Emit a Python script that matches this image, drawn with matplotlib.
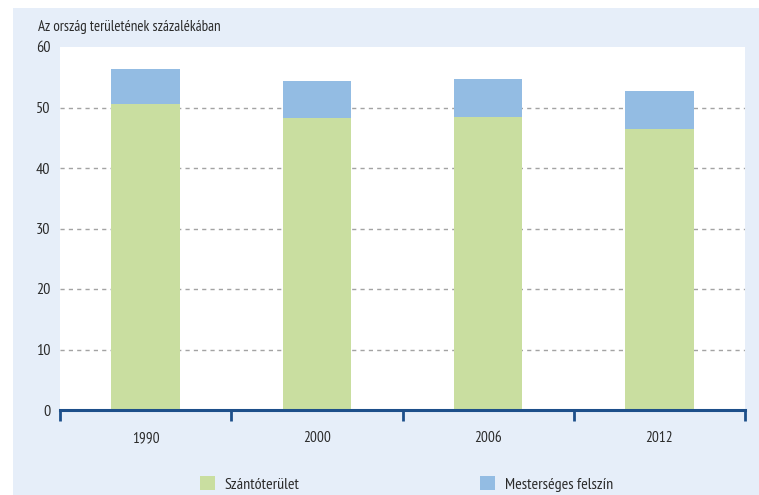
import matplotlib.pyplot as plt
from matplotlib.patches import Rectangle

# DATA
# ############################################################################
YEARS = ['1990', '2000', '2006', '2012']
ARABLE = [50.6, 48.3, 48.4, 46.4]        # Szántóterület
ARTIFICIAL = [5.8, 6.1, 6.3, 6.3]        # Mesterséges felszín
Y_TICKS = [0, 10, 20, 30, 40, 50, 60]

GREEN = '#c9dea0'
BLUE = '#93bce3'
BG = '#e6eef9'
NAVY = '#1d4f8a'
TEXT = '#2b2b2b'

plt.rcParams['font.family'] = ['PT Sans Narrow', 'DejaVu Sans']
plt.rcParams['font.size'] = 11


def main() -> None:
    fig = plt.figure(figsize=(7.59, 4.95), dpi=100, facecolor='white')
    # light blue panel behind the chart
    fig.patches.append(Rectangle((13 / 759, 0), 1, (495 - 8) / 495,
                                 transform=fig.transFigure, facecolor=BG,
                                 edgecolor='none', zorder=-10))

    ax = fig.add_axes([60 / 759, (495 - 410) / 495,
                       (745 - 60) / 759, (410 - 47) / 495])
    ax.set_facecolor('white')

    x = range(len(YEARS))
    green = ax.bar(x, ARABLE, width=0.4, color=GREEN, zorder=3)
    blue = ax.bar(x, ARTIFICIAL, width=0.4, bottom=ARABLE, color=BLUE,
                  zorder=3)

    ax.set_xlim(-0.5, len(YEARS) - 0.5)
    ax.set_ylim(0, 60)
    ax.set_yticks(Y_TICKS)
    ax.tick_params(axis='y', length=0, pad=7, labelsize=11.5,
                   labelcolor=TEXT)
    for y in Y_TICKS[1:-1]:
        ax.axhline(y, color='#a3a3a3', linestyle=(0, (3, 3)), linewidth=1.0,
                   zorder=1)

    # category labels between the boundary ticks
    ax.set_xticks([i - 0.5 for i in range(len(YEARS) + 1)])
    ax.set_xticklabels([])
    ax.set_xticks(list(x), minor=True)
    ax.set_xticklabels(YEARS, minor=True)
    ax.tick_params(axis='x', which='major', direction='out', length=8,
                   width=2, color=NAVY)
    ax.tick_params(axis='x', which='minor', length=0, pad=15, labelsize=11,
                   labelcolor=TEXT)

    for side in ['top', 'right', 'left']:
        ax.spines[side].set_visible(False)
    ax.spines['bottom'].set_color(NAVY)
    ax.spines['bottom'].set_linewidth(2.2)
    ax.spines['bottom'].set_zorder(5)

    fig.text(38 / 759, 1 - 27 / 495, 'Az ország területének százalékában',
             fontsize=10.8, color=TEXT, va='center', ha='left')

    for handle, label, left in [(green, 'Szántóterület', 200),
                                (blue, 'Mesterséges felszín', 480)]:
        fig.legend([handle], [label], loc='center left',
                   bbox_to_anchor=(left / 759, 1 - 484 / 495),
                   frameon=False, handlelength=0.95, handleheight=0.95,
                   handletextpad=0.6, borderpad=0, borderaxespad=0,
                   fontsize=11.5, labelcolor=TEXT)

    fig.savefig('out.png', dpi=100, facecolor=fig.get_facecolor())


if __name__ == "__main__":
    main()
